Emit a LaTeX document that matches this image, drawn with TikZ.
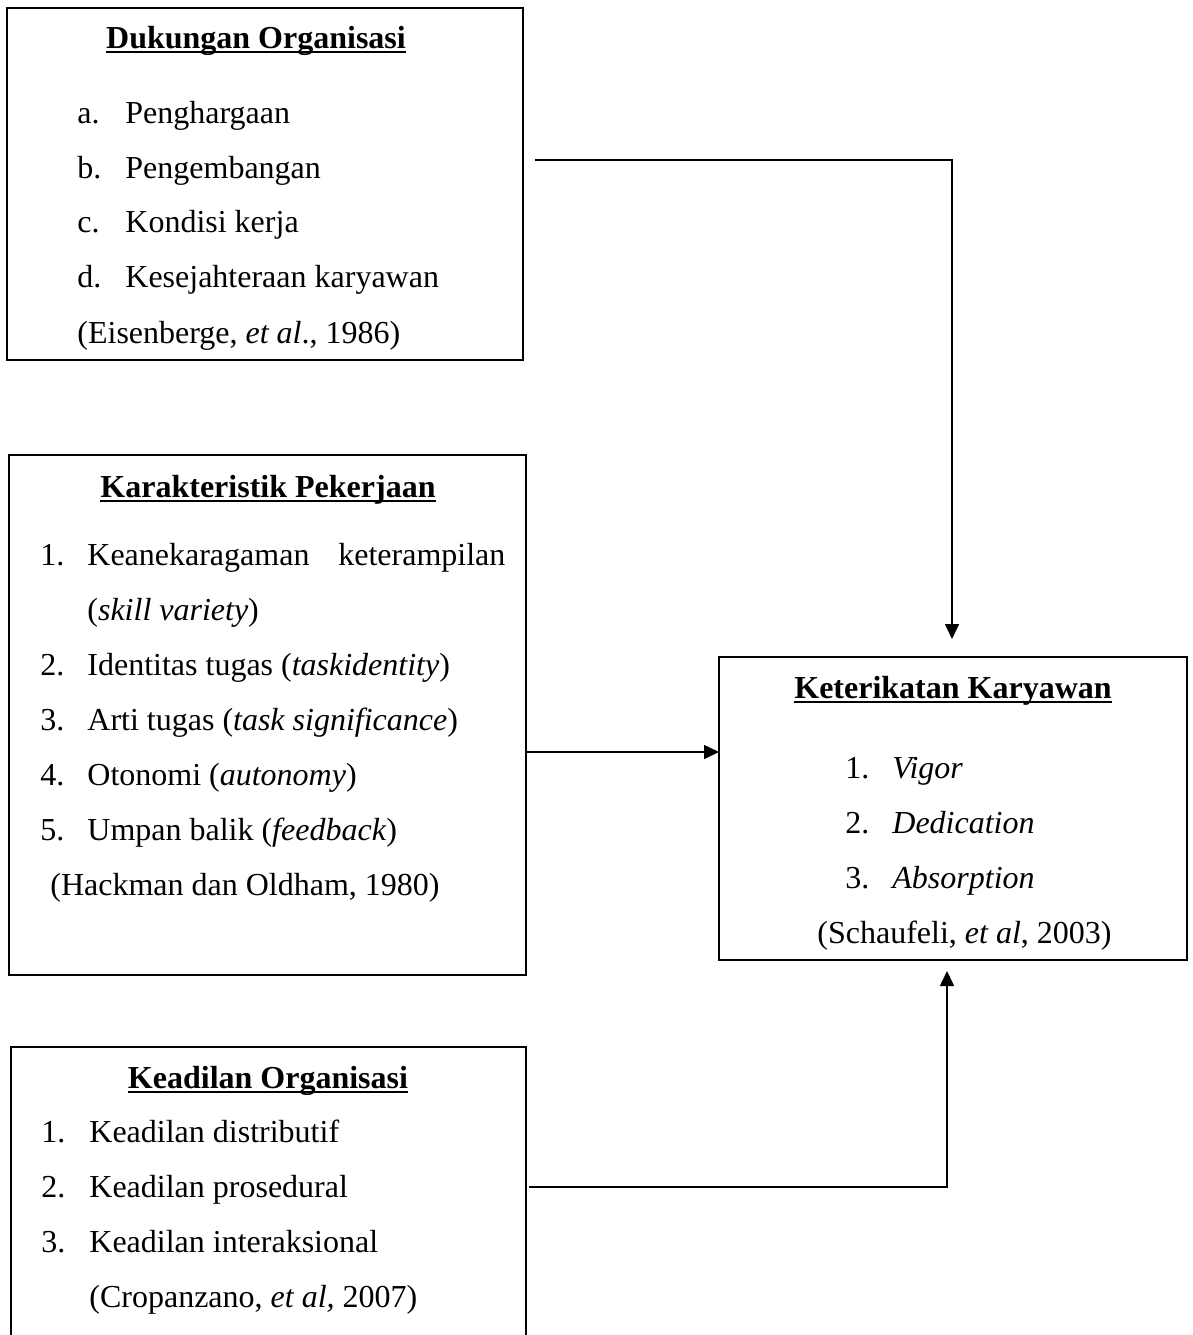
\documentclass[tikz,border=0pt]{standalone}
\usepackage{fontspec}
\setmainfont{Liberation Serif}
\usetikzlibrary{arrows.meta,calc}
\newcommand{\hdline}[1]{\setbox0\hbox{#1}\rlap{\rule[-2.6pt]{\wd0}{1.1pt}}\box0}
\tikzset{
  bx/.style={rectangle,draw=black,line width=.7pt,inner sep=0pt,outer sep=0pt,fill=white},
  hd/.style={anchor=base,inner sep=0pt,font=\fontsize{16}{20}\selectfont\bfseries},
  tx/.style={anchor=base west,inner sep=0pt},
  arr/.style={-{Triangle[length=7.5pt,width=7pt]},line width=.8pt,draw=black},
}
\begin{document}
\begin{tikzpicture}[x=0.5pt,y=-0.5pt,font=\fontsize{16}{20}\selectfont]
\useasboundingbox (0,0) rectangle (1193,1335);
% ---------- box 1: dukungan organisasi ----------
\node[bx,minimum width=258pt,minimum height=176pt] (dukungan) at (265,184) {};
\node[hd] (dhd) at (256,48) {\hdline{Dukungan Organisasi}};
\node[tx] (dn1) at (77,123) {a.}; \node[tx] (dt1) at (125,123) {Penghargaan};
\node[tx] (dn2) at (77,178) {b.}; \node[tx] (dt2) at (125,178) {Pengembangan};
\node[tx] (dn3) at (77,232) {c.}; \node[tx] (dt3) at (125,232) {Kondisi kerja};
\node[tx] (dn4) at (77,287) {d.}; \node[tx] (dt4) at (125,287) {Kesejahteraan karyawan};
\node[tx] (dsrc) at (77,343) {(Eisenberge, \textit{et al}., 1986)};
% ---------- box 2: karakteristik pekerjaan ----------
\node[bx,minimum width=258.5pt,minimum height=260pt] (karakteristik) at (267.5,715) {};
\node[hd] (khd) at (268,497) {\hdline{Karakteristik Pekerjaan}};
\node[tx] (kn1) at (40,565) {1.};
\node[tx] (kt1) at (87,565) {\hbox to 209pt{Keanekaragaman\hfill keterampilan}};
\node[tx] (kt1b) at (87,620) {(\textit{skill variety})};
\node[tx] (kn2) at (40,675) {2.}; \node[tx] (kt2) at (87,675) {Identitas tugas (\textit{taskidentity})};
\node[tx] (kn3) at (40,730) {3.}; \node[tx] (kt3) at (87,730) {Arti tugas (\textit{task significance})};
\node[tx] (kn4) at (40,785) {4.}; \node[tx] (kt4) at (87,785) {Otonomi (\textit{autonomy})};
\node[tx] (kn5) at (40,840) {5.}; \node[tx] (kt5) at (87,840) {Umpan balik (\textit{feedback})};
\node[tx] (ksrc) at (50,895) {(Hackman dan Oldham, 1980)};
% ---------- box 3: keadilan organisasi (runs off the page) ----------
\node[bx,minimum width=257.5pt,minimum height=151.5pt] (keadilan) at (268.5,1198.5) {};
\node[hd] (jhd) at (268,1088) {\hdline{Keadilan Organisasi}};
\node[tx] (jn1) at (41,1142) {1.}; \node[tx] (jt1) at (89,1142) {Keadilan distributif};
\node[tx] (jn2) at (41,1197) {2.}; \node[tx] (jt2) at (89,1197) {Keadilan prosedural};
\node[tx] (jn3) at (41,1252) {3.}; \node[tx] (jt3) at (89,1252) {Keadilan interaksional};
\node[tx] (jsrc) at (89,1307) {(Cropanzano, \textit{et al,} 2007)};
% ---------- box 4: keterikatan karyawan ----------
\node[bx,minimum width=234pt,minimum height=151.5pt] (keterikatan) at (953,808.5) {};
\node[hd] (ehd) at (953,698) {\hdline{Keterikatan Karyawan}};
\node[tx] (en1) at (845,778) {1.}; \node[tx] (et1) at (892,778) {\textit{Vigor}};
\node[tx] (en2) at (845,833) {2.}; \node[tx] (et2) at (892,833) {\textit{Dedication}};
\node[tx] (en3) at (845,888) {3.}; \node[tx] (et3) at (892,888) {\textit{Absorption}};
\node[tx] (esrc) at (817,943) {(Schaufeli, \textit{et al}, 2003)};
% ---------- arrows ----------
\draw[arr] ($(dukungan.east)+(12,-24)$) -| ($(keterikatan.north)+(-1,-18)$);
\draw[arr] (karakteristik.east |- 0,752) -- (keterikatan.west |- 0,752);
\draw[arr] ($(keadilan.east |- 0,1187)+(3,0)$) -| ($(keterikatan.south)+(-6,11)$);
\end{tikzpicture}
\end{document}
